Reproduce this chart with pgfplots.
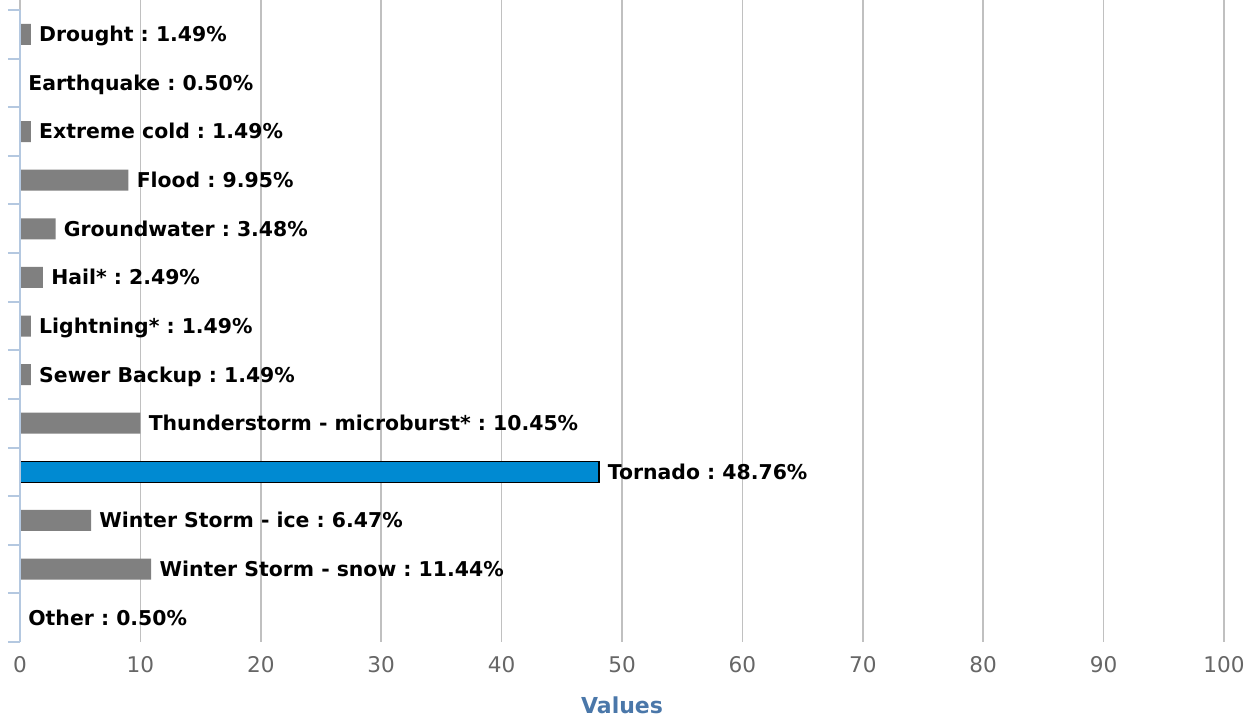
\documentclass[border=0pt]{standalone}
\usepackage{fontspec}
\setmainfont{DejaVu Sans}
\usepackage{pgfplots}
\usepackage{pgfplotstable}
\pgfplotsset{compat=1.18}
\definecolor{bargray}{HTML}{808080}
\definecolor{tblue}{HTML}{008AD2}
\definecolor{gridgray}{HTML}{C0C0C0}
\definecolor{axisblue}{HTML}{B4C8E0}
\definecolor{ticktext}{HTML}{666666}
\definecolor{titleblue}{HTML}{4A77A9}
\frenchspacing

\pgfplotstableread[col sep=comma]{
y,x,label
0,0.9,Drought : 1.49\%
1,0,Earthquake : 0.50\%
2,0.9,Extreme cold : 1.49\%
3,9.0,Flood : 9.95\%
4,2.95,Groundwater : 3.48\%
5,1.9,Hail* : 2.49\%
6,0.9,Lightning* : 1.49\%
7,0.9,Sewer Backup : 1.49\%
8,10.0,Thunderstorm - microburst* : 10.45\%
10,5.9,Winter Storm - ice : 6.47\%
11,10.9,Winter Storm - snow : 11.44\%
12,0,Other : 0.50\%
}\datagray

\begin{document}
\frenchspacing
\begin{tikzpicture}
\path[use as bounding box] (0,0) rectangle (628.5pt,359pt);
\begin{axis}[
  at={(10pt,38pt)}, anchor=south west,
  width=602pt, height=321pt, scale only axis,
  xmin=0, xmax=100, ymin=-0.706, ymax=12.5,
  y dir=reverse,
  xbar, bar width=10.5pt,
  axis line style={draw=none},
  xtick={0,10,...,100},
  x tick style={draw=none},
  xmajorgrids,
  grid style={gridgray, line width=0.8pt},
  ytick={-0.5,0.5,...,12.5},
  yticklabels={},
  ytick pos=left,
  tick align=outside,
  y tick style={draw=axisblue, line width=1pt},
  major tick length=6pt,
  /pgf/number format/assume math mode=true,
  xticklabel style={font=\fontsize{10.8}{12}\selectfont, text=ticktext, anchor=center, yshift=-5.5pt},
  xlabel={Values},
  xlabel style={font=\fontsize{11}{13}\selectfont\bfseries, text=titleblue, at={(axis description cs:0.5,0)}, anchor=center, yshift=-31.5pt},
  point meta=explicit symbolic,
  nodes near coords,
  nodes near coords align=horizontal,
  nodes near coords style={anchor=base west, inner sep=0pt, xshift=4pt, yshift=-3.7pt, font=\fontsize{10.2}{12}\selectfont\bfseries, text=black},
  clip=false,
]
\addplot[fill=bargray, draw=none, bar shift=0pt] table[x=x, y=y, meta=label] {\datagray};
\addplot[fill=tblue, draw=black, line width=0.75pt, bar shift=0pt] coordinates {(48.1,9) [Tornado : 48.76\%]};
\draw[axisblue, line width=1.1pt] (axis cs:0,-0.5) -- (axis cs:0,12.5);
\end{axis}
\end{tikzpicture}
\end{document}
